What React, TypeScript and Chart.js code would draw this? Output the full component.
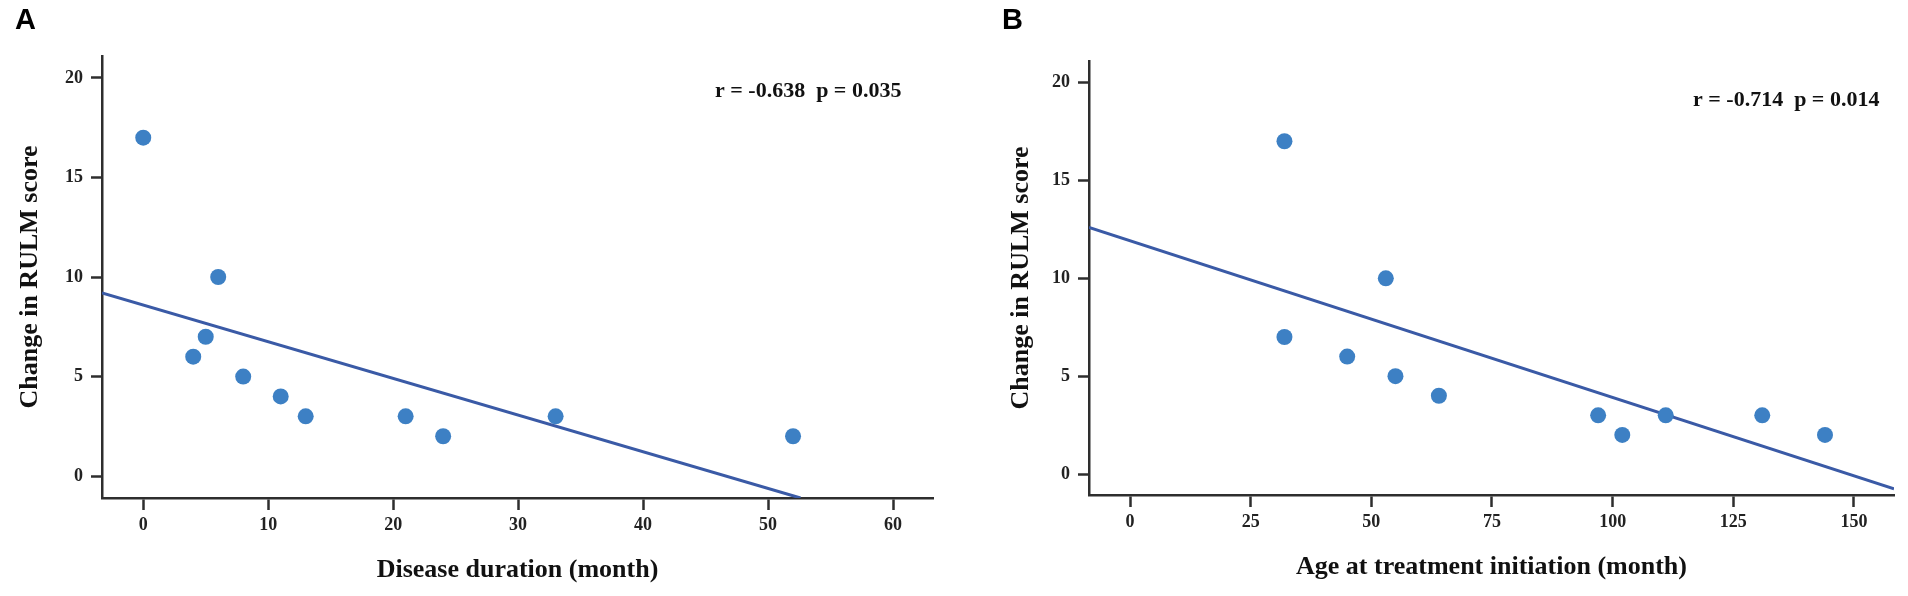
import React, { useEffect, useRef } from "react";
import Chart from "chart.js/auto";

// panel A: disease duration vs change in RULM
const durationA = [0, 4, 5, 6, 8, 11, 13, 21, 24, 33, 52];
const changeA = [17, 6, 7, 10, 5, 4, 3, 3, 2, 3, 2];
const fitAx = [-3.3, 52.6];
const fitAy = [9.2, -1.1];

// panel B: age at treatment initiation vs change in RULM
const ageB = [32, 32, 45, 53, 55, 64, 97, 102, 111, 131, 144];
const changeB = [17, 7, 6, 10, 5, 4, 3, 2, 3, 3, 2];
const fitBx = [-8.5, 158.3];
const fitBy = [12.6, -0.75];

const yTicks = [0, 5, 10, 15, 20];
const xTicksA = [0, 10, 20, 30, 40, 50, 60];
const xTicksB = [0, 25, 50, 75, 100, 125, 150];

const SERIF = "'Liberation Serif', 'Times New Roman', serif";
const AXIS = "#2e2e2e";

const panelText = {
  id: "panelText",
  afterDraw(chart: any, _args: any, opts: any) {
    const ctx = chart.ctx;
    ctx.save();
    ctx.fillStyle = "#000";
    ctx.textBaseline = "alphabetic";
    ctx.textAlign = "left";
    ctx.font = "bold 29px 'Liberation Sans', Arial, sans-serif";
    ctx.fillText(opts.letter, opts.letterX, 29);
    ctx.fillStyle = "#111";
    ctx.textBaseline = "middle";
    ctx.font = `bold 22px ${SERIF}`;
    ctx.fillText(opts.note, opts.noteX, opts.noteY);
    ctx.restore();
  },
};

interface PanelProps {
  xs: number[];
  ys: number[];
  fitX: number[];
  fitY: number[];
  xTicks: number[];
  xMin: number;
  xMax: number;
  yMin: number;
  yMax: number;
  xTitle: string;
  yTitlePad: number;
  xTitlePad: number;
  yWidth: number;
  xHeight: number;
  top: number;
  right: number;
  letter: string;
  letterX: number;
  note: string;
  noteX: number;
  noteY: number;
}

const Panel = (p: PanelProps) => {
  const ref = useRef<HTMLCanvasElement | null>(null);

  useEffect(() => {
    const ctx = ref.current?.getContext("2d");
    if (!ctx) return;

    const tickFont = { family: SERIF, size: 18, weight: "bold" as const };
    const titleFont = { family: SERIF, size: 26, weight: "bold" as const };

    const chart = new Chart(ctx, {
      type: "scatter",
      data: {
        datasets: [
          {
            label: "fit",
            data: p.fitX.map((x, i) => ({ x, y: p.fitY[i] })),
            showLine: true,
            borderColor: "#3a5aa6",
            borderWidth: 3,
            pointRadius: 0,
            order: 2,
          },
          {
            label: "patients",
            data: p.xs.map((x, i) => ({ x, y: p.ys[i] })),
            backgroundColor: "#3d80c4",
            borderWidth: 0,
            pointRadius: 8,
            order: 1,
          },
        ],
      },
      options: {
        animation: false,
        responsive: true,
        maintainAspectRatio: false,
        layout: { padding: { top: p.top, right: p.right, left: 0, bottom: 0 } },
        plugins: {
          legend: { display: false },
          tooltip: { enabled: false },
          panelText: {
            letter: p.letter,
            letterX: p.letterX,
            note: p.note,
            noteX: p.noteX,
            noteY: p.noteY,
          },
        } as any,
        scales: {
          x: {
            type: "linear",
            min: p.xMin,
            max: p.xMax,
            afterBuildTicks: (s: any) => {
              s.ticks = p.xTicks.map((v) => ({ value: v }));
            },
            afterFit: (s: any) => {
              s.height = p.xHeight;
            },
            grid: {
              drawOnChartArea: false,
              drawTicks: true,
              tickLength: 12,
              tickWidth: 2.5,
              tickColor: AXIS,
            },
            border: { display: true, color: AXIS, width: 2.5 },
            ticks: { font: tickFont, color: "#222", padding: 5, maxRotation: 0 },
            title: {
              display: true,
              text: p.xTitle,
              font: titleFont,
              color: "#111",
              padding: { top: 0, bottom: p.xTitlePad },
            },
          },
          y: {
            type: "linear",
            min: p.yMin,
            max: p.yMax,
            afterBuildTicks: (s: any) => {
              s.ticks = yTicks.map((v) => ({ value: v }));
            },
            afterFit: (s: any) => {
              s.width = p.yWidth;
            },
            grid: {
              drawOnChartArea: false,
              drawTicks: true,
              tickLength: 11,
              tickWidth: 2.5,
              tickColor: AXIS,
            },
            border: { display: true, color: AXIS, width: 2.5 },
            ticks: { font: tickFont, color: "#222", padding: 8 },
            title: {
              display: true,
              text: "Change in RULM score",
              font: titleFont,
              color: "#111",
              padding: { top: p.yTitlePad, bottom: 0 },
            },
          },
        },
      },
      plugins: [panelText],
    });

    return () => {
      chart.destroy();
    };
  }, [p]);

  return <canvas ref={ref} />;
};

const panelA: PanelProps = {
  xs: durationA,
  ys: changeA,
  fitX: fitAx,
  fitY: fitAy,
  xTicks: xTicksA,
  xMin: -3.3,
  xMax: 63.2,
  yMin: -1.1,
  yMax: 21.1,
  xTitle: "Disease duration (month)",
  yTitlePad: 14.4,
  xTitlePad: 10.4,
  yWidth: 102,
  xHeight: 98,
  top: 56,
  right: 21,
  letter: "A",
  letterX: 15,
  note: "r = -0.638  p = 0.035",
  noteX: 715,
  noteY: 91,
};

const panelB: PanelProps = {
  xs: ageB,
  ys: changeB,
  fitX: fitBx,
  fitY: fitBy,
  xTicks: xTicksB,
  xMin: -8.5,
  xMax: 158.3,
  yMin: -1.07,
  yMax: 21.1,
  xTitle: "Age at treatment initiation (month)",
  yTitlePad: 51.4,
  xTitlePad: 13.4,
  yWidth: 135,
  xHeight: 101,
  top: 61,
  right: 14,
  letter: "B",
  letterX: 48,
  note: "r = -0.714  p = 0.014",
  noteX: 739,
  noteY: 100,
};

export default function App() {
  return (
    <div
      style={{
        position: "absolute",
        left: 0,
        top: 0,
        width: 1908,
        height: 596,
        background: "#fff",
        display: "flex",
      }}
    >
      <div style={{ position: "relative", width: 954, height: 596 }}>
        <Panel {...panelA} />
      </div>
      <div style={{ position: "relative", width: 954, height: 596 }}>
        <Panel {...panelB} />
      </div>
    </div>
  );
}
